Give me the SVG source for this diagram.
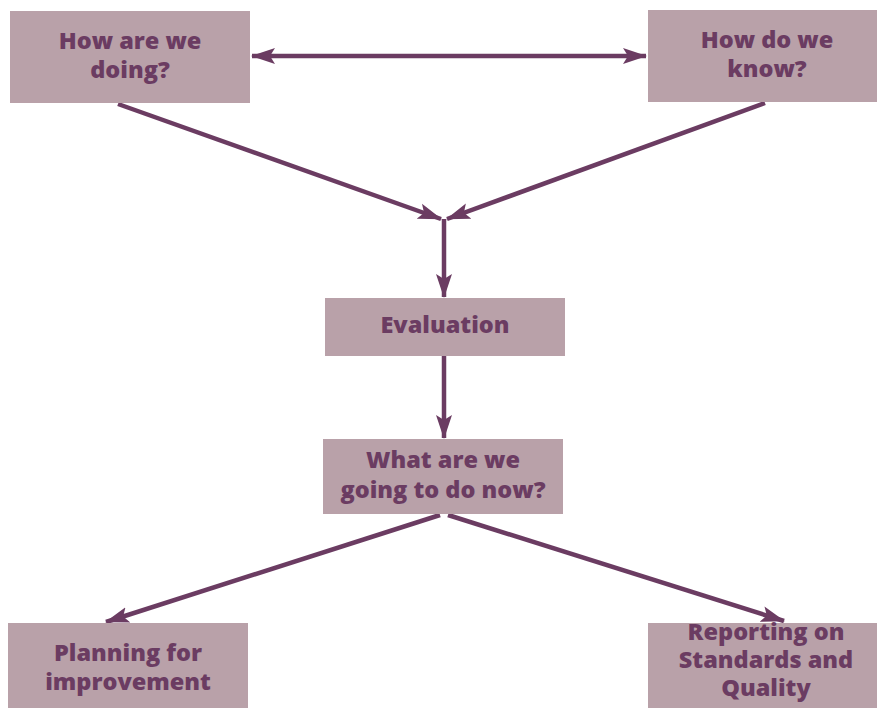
<svg xmlns="http://www.w3.org/2000/svg" width="877" height="708" viewBox="0 0 877 708">
<style>
.box{fill:#b9a1a9}
.t{font-family:"Open Sans","DejaVu Sans",sans-serif;font-weight:800;font-size:23.5px;fill:#6b3c62;text-anchor:middle}
.c{stroke:#6b3c62;stroke-width:4.5;fill:none}
</style>
<defs>
<marker id="ah" markerUnits="userSpaceOnUse" markerWidth="24" markerHeight="18" refX="23" refY="9" orient="auto-start-reverse" viewBox="0 0 24 18">
<path d="M0,1 L24,9 L0,17 L5,9 z" fill="#6b3c62"/>
</marker>
</defs>
<rect width="877" height="708" fill="#fff"/>
<g id="connectors">
<line class="c" x1="252" y1="56" x2="646" y2="56" marker-start="url(#ah)" marker-end="url(#ah)"/>
<line class="c" x1="118" y1="104" x2="441" y2="219" marker-end="url(#ah)"/>
<line class="c" x1="765" y1="103" x2="447" y2="219" marker-end="url(#ah)"/>
<line class="c" x1="444" y1="219" x2="444" y2="297" marker-end="url(#ah)"/>
<line class="c" x1="444" y1="356" x2="444" y2="438" marker-end="url(#ah)"/>
<line class="c" x1="440" y1="515" x2="106" y2="622" marker-end="url(#ah)"/>
<line class="c" x1="448" y1="515" x2="784" y2="621" marker-end="url(#ah)"/>
</g>
<g id="n1"><rect class="box" x="10" y="11" width="240" height="92"/><text class="t" x="130" y="49">How are we</text><text class="t" x="130" y="78">doing?</text></g>
<g id="n2"><rect class="box" x="648" y="10" width="229" height="92"/><text class="t" x="767" y="48">How do we</text><text class="t" x="767" y="77">know?</text></g>
<g id="n3"><rect class="box" x="325" y="298" width="240" height="58"/><text class="t" x="445" y="333">Evaluation</text></g>
<g id="n4"><rect class="box" x="323" y="439" width="240" height="75"/><text class="t" x="443" y="468">What are we</text><text class="t" x="443" y="498">going to do now?</text></g>
<g id="n5"><rect class="box" x="8" y="623" width="240" height="85"/><text class="t" x="128" y="661">Planning for</text><text class="t" x="128" y="690">improvement</text></g>
<g id="n6"><rect class="box" x="648" y="623" width="229" height="85"/><text class="t" x="766" y="640">Reporting on</text><text class="t" x="766" y="668">Standards and</text><text class="t" x="766" y="696">Quality</text></g>
</svg>
